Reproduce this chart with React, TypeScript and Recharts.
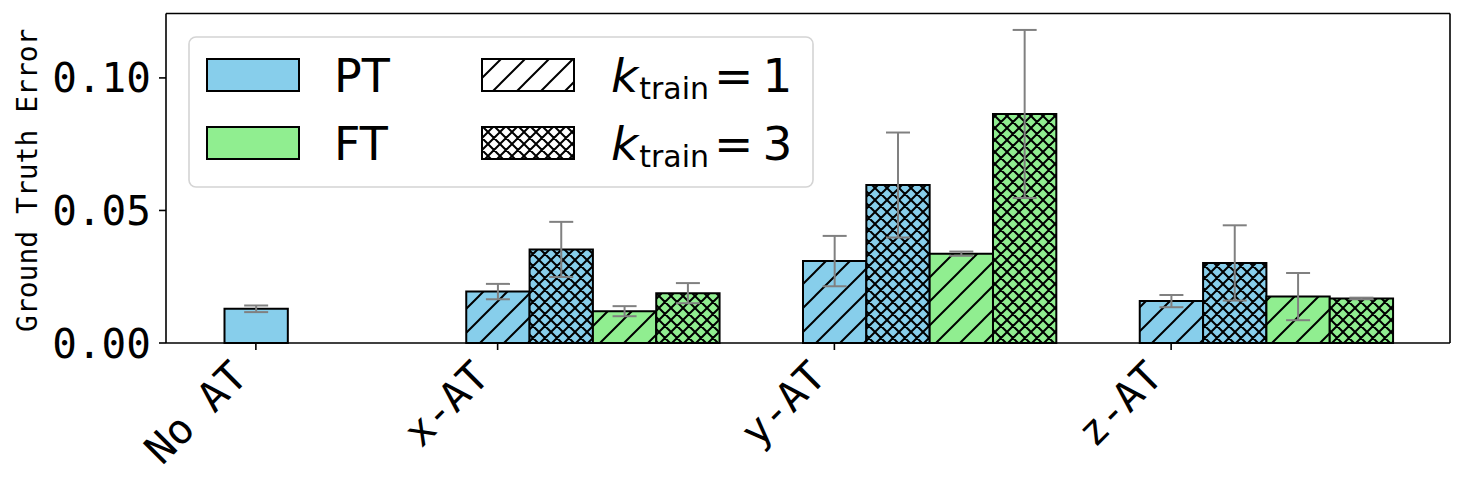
import React from "react";
import { Bar, BarChart, ErrorBar, Legend, XAxis, YAxis } from "recharts";

// categories and values
const categories = ["No AT", "x-AT", "y-AT", "z-AT"];

const ptBase = [0.0129, null, null, null];
const ptBaseErr = [0.00125, null, null, null];

const ptK1 = [null, 0.0194, 0.0309, 0.0158];
const ptK1Err = [null, 0.0029, 0.0095, 0.0023];
const ptK3 = [null, 0.0353, 0.0596, 0.0302];
const ptK3Err = [null, 0.0104, 0.0198, 0.0142];
const ftK1 = [null, 0.012, 0.0337, 0.0175];
const ftK1Err = [null, 0.0019, 0.0008, 0.0089];
const ftK3 = [null, 0.0188, 0.0864, 0.0168];
const ftK3Err = [null, 0.0038, 0.0317, 0.0003];

const yTicks = [0, 0.05, 0.1];
const methods = ["PT", "FT"];
const kTrain = [1, 3];

const PT_COLOR = "#87CEEB";
const FT_COLOR = "#90EE90";
const methodColors = [PT_COLOR, FT_COLOR];
const Y_MAX = 0.1243;
const BAR_W = 63.33;
const MONO = "'DejaVu Sans Mono', monospace";
const SANS = "'DejaVu Sans', sans-serif";

const data = categories.map((name, i) => ({
  name,
  ptBase: ptBase[i],
  ptBaseErr: ptBaseErr[i],
  ptK1: ptK1[i],
  ptK1Err: ptK1Err[i],
  ptK3: ptK3[i],
  ptK3Err: ptK3Err[i],
  ftK1: ftK1[i],
  ftK1Err: ftK1Err[i],
  ftK3: ftK3[i],
  ftK3Err: ftK3Err[i],
}));

function Hatches({ prefix, shift }: { prefix: string; shift: number }) {
  const slash = "M-6,6 L6,-6 M0,24 L24,0 M18,30 L30,18";
  const cross =
    "M-3,3 L3,-3 M0,12 L12,0 M9,15 L15,9 M-3,9 L3,15 M0,0 L12,12 M9,-3 L15,3";
  const bgs = { pt: PT_COLOR, ft: FT_COLOR, lg: "#fff" };
  return (
    <defs>
      {Object.entries(bgs).map(([k, bg]) => (
        <React.Fragment key={k}>
          <pattern
            id={`${prefix}-${k}-k1`}
            patternUnits="userSpaceOnUse"
            width={24}
            height={24}
            patternTransform={`translate(${shift} 0)`}
          >
            <rect width={24} height={24} fill={bg} />
            <path d={slash} stroke="#000" strokeWidth={2} />
          </pattern>
          <pattern
            id={`${prefix}-${k}-k3`}
            patternUnits="userSpaceOnUse"
            width={12}
            height={12}
            patternTransform={`translate(${shift} 0)`}
          >
            <rect width={12} height={12} fill={bg} />
            <path d={cross} stroke="#000" strokeWidth={2} />
          </pattern>
        </React.Fragment>
      ))}
    </defs>
  );
}

function XTick(props: any) {
  const { x, y, payload } = props;
  // matplotlib ticks sit on the first bar of each group
  const tx = payload.value === categories[0] ? x : x - 1.5 * BAR_W;
  const lx = tx - 6.5;
  const ly = y + 36;
  return (
    <g>
      <line x1={tx} x2={tx} y1={y} y2={y + 7} stroke="#000" strokeWidth={1.6} />
      <text
        x={lx}
        y={ly}
        transform={`rotate(-45 ${lx} ${ly})`}
        textAnchor="end"
        fontSize={41}
        fontFamily={MONO}
        fill="#000"
      >
        {payload.value}
      </text>
    </g>
  );
}

function LegendBox() {
  return (
    <svg width={628} height={154} style={{ display: "block" }}>
      <Hatches prefix="leg" shift={0} />
      <rect
        x={1}
        y={1}
        width={624}
        height={150}
        rx={7}
        fill="rgba(255,255,255,0.8)"
        stroke="#d4d4d4"
        strokeWidth={1.6}
      />
      {methods.map((m, i) => (
        <g key={m}>
          <rect x={19} y={23 + i * 68} width={92} height={32} fill={methodColors[i]} stroke="#000" strokeWidth={2} />
          <text x={146} y={56 + i * 68} fontSize={46} fontFamily={SANS} fill="#000">
            {m}
          </text>
        </g>
      ))}
      {kTrain.map((k, i) => (
        <g key={k}>
          <rect
            x={294}
            y={23 + i * 68}
            width={92}
            height={32}
            fill={`url(#leg-lg-k${k})`}
            stroke="#000"
            strokeWidth={2}
          />
          <text x={423} y={56 + i * 68} fontSize={47} fontFamily={SANS} fill="#000">
            <tspan fontStyle="italic">k</tspan>
            <tspan fontSize={30} dx={1} dy={7}>
              train
            </tspan>
            <tspan dy={-7} dx={5}>
              =
            </tspan>
            <tspan dx={9}>{k}</tspan>
          </text>
        </g>
      ))}
    </svg>
  );
}

export default function App() {
  const pad = { left: -78.5, right: 15.5 };
  const axisLine = { stroke: "#000", strokeWidth: 1.6 };
  return (
    <BarChart
      width={1450}
      height={475}
      data={data}
      margin={{ top: 4.5, right: 7, bottom: 0, left: 0 }}
      barGap={0}
    >
      <Hatches prefix="bar" shift={15} />
      <XAxis
        xAxisId="bottom"
        dataKey="name"
        type="category"
        padding={pad}
        height={140}
        interval={0}
        tickSize={0}
        tickMargin={0}
        tickLine={false}
        axisLine={axisLine}
        tick={(p: any) => <XTick {...p} />}
      />
      <XAxis
        xAxisId="top"
        orientation="top"
        dataKey="name"
        type="category"
        padding={pad}
        height={1}
        tick={false}
        tickLine={false}
        axisLine={axisLine}
      />
      <YAxis
        yAxisId="left"
        width={158}
        domain={[0, Y_MAX]}
        ticks={yTicks}
        tickFormatter={(v: number) => v.toFixed(2)}
        tickSize={7}
        tickMargin={8}
        axisLine={axisLine}
        tickLine={{ stroke: "#000", strokeWidth: 1.6 }}
        tick={{ fontSize: 41, fontFamily: MONO, fill: "#000" }}
        label={{
          content: (p: any) => {
            const vb = p.viewBox || { y: 5.5, height: 329 };
            const cy = vb.y + vb.height / 2 + 2;
            return (
              <text
                x={29}
                y={cy}
                transform={`rotate(-90 29 ${cy})`}
                textAnchor="middle"
                fontSize={28}
                fontFamily={MONO}
                fill="#000"
              >
                Ground Truth Error
              </text>
            );
          },
        }}
      />
      <YAxis
        yAxisId="right"
        orientation="right"
        width={1}
        domain={[0, Y_MAX]}
        tick={false}
        tickLine={false}
        axisLine={axisLine}
      />
      <Legend
        layout="horizontal"
        verticalAlign="middle"
        align="center"
        wrapperStyle={{ left: 180, top: 28, width: 628, height: 154 }}
        content={() => <LegendBox />}
      />
      <Bar
        xAxisId="top"
        yAxisId="right"
        dataKey="ptBase"
        name="PT"
        fill={PT_COLOR}
        stroke="#000"
        strokeWidth={2}
        barSize={BAR_W}
        isAnimationActive={false}
      >
        <ErrorBar dataKey="ptBaseErr" width={12} stroke="#808080" strokeWidth={2} />
      </Bar>
      <Bar xAxisId="bottom" yAxisId="left" dataKey="ptK1" fill="url(#bar-pt-k1)" stroke="#000" strokeWidth={2} barSize={BAR_W} isAnimationActive={false}>
        <ErrorBar dataKey="ptK1Err" width={12} stroke="#808080" strokeWidth={2} />
      </Bar>
      <Bar xAxisId="bottom" yAxisId="left" dataKey="ptK3" fill="url(#bar-pt-k3)" stroke="#000" strokeWidth={2} barSize={BAR_W} isAnimationActive={false}>
        <ErrorBar dataKey="ptK3Err" width={12} stroke="#808080" strokeWidth={2} />
      </Bar>
      <Bar xAxisId="bottom" yAxisId="left" dataKey="ftK1" fill="url(#bar-ft-k1)" stroke="#000" strokeWidth={2} barSize={BAR_W} isAnimationActive={false}>
        <ErrorBar dataKey="ftK1Err" width={12} stroke="#808080" strokeWidth={2} />
      </Bar>
      <Bar xAxisId="bottom" yAxisId="left" dataKey="ftK3" fill="url(#bar-ft-k3)" stroke="#000" strokeWidth={2} barSize={BAR_W} isAnimationActive={false}>
        <ErrorBar dataKey="ftK3Err" width={12} stroke="#808080" strokeWidth={2} />
      </Bar>
    </BarChart>
  );
}
